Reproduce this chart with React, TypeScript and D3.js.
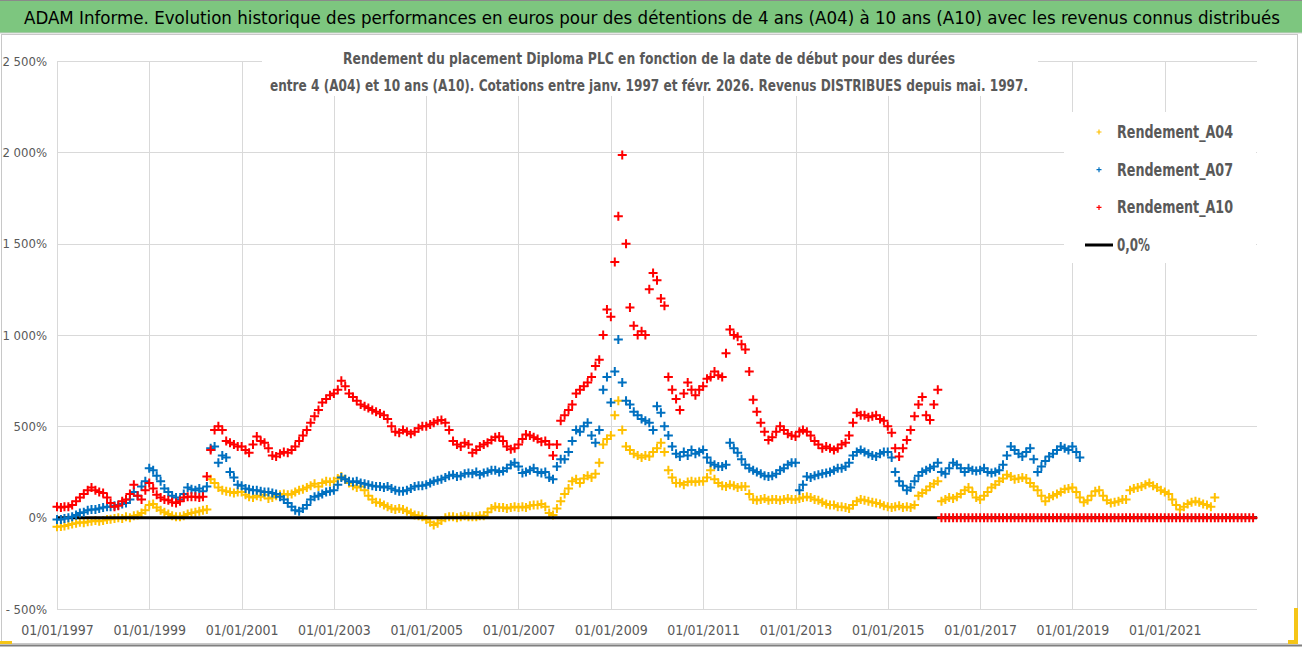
import React, { useEffect, useRef } from 'react';
import * as d3 from 'd3';

// monthly readings, first value = January 1997
const rendementA04 = [
  -50, -48, -45, -40, -35, -30, -25, -28, -22, -20, -15, -20, // 1997
  -15, -10, -8, -5, 0, -5, 5, 0, 10, 15, 25, 40, // 1998
  70, 75, 55, 40, 30, 20, 10, 5, 5, 10, 20, 25, // 1999
  30, 35, 40, 45, 210, 190, 165, 150, 145, 140, 135, 140, // 2000
  140, 125, 115, 110, 120, 115, 125, 105, 110, 120, 125, 130, // 2001
  125, 130, 140, 150, 155, 165, 175, 185, 170, 190, 200, 195, // 2002
  200, 215, 225, 210, 190, 175, 165, 170, 150, 120, 100, 85, // 2003
  80, 70, 60, 50, 45, 50, 45, 35, 25, 15, 10, 5, // 2004
  -10, -25, -40, -30, -15, 0, 5, 5, 0, 5, 10, 5, // 2005
  5, 5, 10, 10, 30, 50, 60, 55, 55, 50, 55, 60, // 2006
  55, 60, 55, 65, 70, 70, 75, 60, 25, 15, 50, 90, // 2007
  130, 160, 200, 210, 190, 215, 230, 220, 240, 300, 400, 430, // 2008
  450, 560, 640, 480, 390, 370, 350, 340, 330, 340, 335, 360, // 2009
  380, 410, 360, 260, 220, 190, 190, 180, 195, 200, 195, 200, // 2010
  200, 220, 260, 210, 190, 175, 170, 180, 175, 165, 170, 170, // 2011
  130, 100, 95, 100, 105, 95, 100, 100, 95, 100, 105, 100, // 2012
  100, 105, 110, 115, 110, 100, 95, 85, 75, 70, 70, 60, // 2013
  60, 55, 50, 70, 90, 100, 95, 90, 85, 80, 75, 65, // 2014
  60, 55, 60, 65, 55, 60, 55, 70, 120, 135, 150, 170, // 2015
  185, 200, 90, 100, 110, 105, 115, 130, 150, 165, 140, 110, // 2016
  100, 120, 140, 165, 180, 200, 215, 235, 225, 210, 215, 220, // 2017
  215, 190, 170, 150, 120, 90, 110, 120, 130, 140, 155, 160, // 2018
  165, 140, 110, 85, 95, 120, 145, 150, 120, 95, 80, 85, // 2019
  90, 100, 100, 150, 160, 165, 170, 180, 190, 175, 165, 150, // 2020
  140, 130, 100, 70, 45, 60, 75, 85, 90, 85, 75, 70, // 2021
  60, 110, // 2022
];

const rendementA07 = [
  -10, -10, -5, 0, 5, 15, 25, 30, 40, 45, 45, 50, // 1997
  55, 60, 60, 65, 70, 75, 80, 100, 140, 120, 170, 200, // 1998
  270, 260, 230, 200, 160, 140, 120, 110, 100, 130, 165, 155, // 1999
  150, 160, 145, 170, 380, 390, 300, 340, 330, 250, 220, 180, // 2000
  175, 160, 155, 150, 150, 145, 140, 140, 135, 130, 115, 100, // 2001
  80, 60, 40, 35, 50, 70, 100, 115, 120, 130, 140, 145, // 2002
  150, 180, 220, 210, 200, 195, 200, 190, 185, 180, 175, 170, // 2003
  170, 165, 170, 160, 150, 145, 145, 150, 160, 170, 175, 175, // 2004
  180, 190, 200, 205, 210, 220, 230, 235, 225, 230, 240, 245, // 2005
  240, 250, 235, 245, 250, 260, 260, 250, 255, 270, 290, 300, // 2006
  280, 245, 250, 260, 270, 250, 245, 250, 220, 210, 280, 320, // 2007
  320, 360, 420, 480, 470, 500, 520, 450, 410, 480, 700, 770, // 2008
  630, 800, 975, 740, 640, 620, 580, 560, 540, 530, 520, 480, // 2009
  610, 575, 500, 450, 390, 350, 335, 360, 340, 370, 350, 360, // 2010
  370, 330, 300, 290, 280, 280, 290, 410, 380, 355, 320, 290, // 2011
  270, 260, 250, 240, 230, 225, 230, 240, 260, 270, 290, 300, // 2012
  300, 150, 180, 225, 220, 230, 235, 240, 245, 250, 260, 270, // 2013
  270, 280, 300, 340, 360, 370, 360, 350, 340, 335, 350, 360, // 2014
  360, 330, 250, 200, 175, 150, 165, 200, 230, 250, 260, 270, // 2015
  280, 300, 250, 240, 270, 300, 290, 270, 250, 270, 260, 255, // 2016
  260, 270, 250, 245, 250, 260, 290, 340, 390, 370, 350, 335, // 2017
  360, 380, 320, 250, 280, 310, 335, 350, 370, 390, 380, 370, // 2018
  390, 360, 330, // 2019
];

const rendementA10 = [
  60, 55, 60, 60, 70, 90, 110, 130, 150, 165, 150, 140, // 1997
  135, 110, 80, 60, 65, 90, 100, 130, 180, 120, 100, 150, // 1998
  190, 160, 125, 110, 100, 95, 85, 80, 90, 110, 115, 115, // 1999
  115, 110, 115, 225, 370, 480, 500, 480, 420, 410, 400, 390, // 2000
  390, 370, 355, 400, 445, 420, 410, 380, 340, 335, 350, 360, // 2001
  355, 370, 390, 420, 450, 480, 520, 555, 590, 630, 650, 670, // 2002
  680, 700, 750, 720, 680, 660, 640, 620, 610, 600, 590, 580, // 2003
  570, 560, 540, 500, 470, 465, 480, 470, 460, 470, 490, 500, // 2004
  500, 510, 520, 530, 535, 520, 480, 420, 400, 390, 410, 400, // 2005
  355, 370, 390, 400, 410, 425, 440, 445, 420, 390, 375, 380, // 2006
  400, 430, 455, 450, 440, 430, 415, 420, 400, 340, 400, 530, // 2007
  560, 590, 620, 680, 700, 720, 740, 770, 830, 865, 1000, 1140, // 2008
  1100, 1400, 1650, 1985, 1500, 1150, 1050, 1000, 1020, 1000, 1250, 1340, // 2009
  1300, 1200, 1160, 770, 700, 650, 590, 680, 740, 700, 670, 700, // 2010
  720, 760, 770, 800, 780, 770, 900, 1030, 1000, 990, 950, 920, // 2011
  800, 645, 580, 520, 470, 425, 440, 470, 500, 480, 460, 450, // 2012
  445, 470, 480, 470, 450, 420, 400, 380, 390, 380, 370, 380, // 2013
  400, 410, 450, 520, 575, 560, 560, 550, 555, 560, 540, 530, // 2014
  500, 465, 380, 335, 380, 425, 480, 555, 620, 660, 560, 535, // 2015
  620, 700, 0, 0, 0, 0, 0, 0, 0, 0, 0, 0, // 2016
  0, 0, 0, 0, 0, 0, 0, 0, 0, 0, 0, 0, // 2017
  0, 0, 0, 0, 0, 0, 0, 0, 0, 0, 0, 0, // 2018
  0, 0, 0, 0, 0, 0, 0, 0, 0, 0, 0, 0, // 2019
  0, 0, 0, 0, 0, 0, 0, 0, 0, 0, 0, 0, // 2020
  0, 0, 0, 0, 0, 0, 0, 0, 0, 0, 0, 0, // 2021
  0, 0, 0, 0, 0, 0, 0, 0, 0, 0, 0, 0, // 2022
];

const zeroLineDates = ['1997-01-01', '2023-01-01'];
const zeroLineValues = [0, 0];

const seriesNames = ['Rendement_A04', 'Rendement_A07', 'Rendement_A10'];
const seriesColors = ['#FFC000', '#0070C0', '#FF0000'];
const tickYears = [1997, 1999, 2001, 2003, 2005, 2007, 2009, 2011, 2013, 2015, 2017, 2019, 2021];
const yTicks = [-500, 0, 500, 1000, 1500, 2000, 2500];

const title =
  'ADAM Informe. Evolution historique des performances en euros pour des détentions de 4 ans (A04) à 10 ans (A10) avec les revenus connus distribués';
const subtitle1 = 'Rendement du placement Diploma PLC en fonction de la date de début pour des durées';
const subtitle2 =
  'entre 4 (A04) et 10 ans (A10). Cotations entre janv. 1997 et févr. 2026. Revenus DISTRIBUES depuis mai. 1997.';

const FONT = "'Liberation Sans Narrow', 'DejaVu Sans Condensed', Roboto, sans-serif";
const GREY = '#595959';

const App: React.FC = () => {
  const ref = useRef<SVGSVGElement | null>(null);

  useEffect(() => {
    if (!ref.current) return;
    const svg = d3.select(ref.current);
    svg.selectAll('*').remove();

    const x = d3
      .scaleTime()
      .domain([new Date(1997, 0, 1), new Date(2023, 0, 1)])
      .range([57, 1257]);
    const y = d3.scaleLinear().domain([-500, 2500]).range([609, 61]);

    // frame + title bar
    svg.append('rect').attr('width', 1302).attr('height', 647).attr('fill', '#fff');
    svg
      .append('rect')
      .attr('x', 1.5)
      .attr('y', 34.5)
      .attr('width', 1296)
      .attr('height', 609)
      .attr('fill', 'none')
      .attr('stroke', '#C8C8C8');
    svg.append('line').attr('x1', 0).attr('x2', 1302).attr('y1', 645.5).attr('y2', 645.5).attr('stroke', '#7F7F7F').attr('stroke-width', 2);
    svg.append('rect').attr('x', 0).attr('y', 0).attr('width', 1302).attr('height', 33).attr('fill', '#7DC67F');
    svg.append('line').attr('x1', 0).attr('x2', 1302).attr('y1', 0.5).attr('y2', 0.5).attr('stroke', '#8A8A8A');
    svg.append('line').attr('x1', 0).attr('x2', 1302).attr('y1', 33).attr('y2', 33).attr('stroke', '#D0D0D0');
    // excel selection handles
    svg.append('rect').attr('x', 0).attr('y', 641).attr('width', 12).attr('height', 3).attr('fill', '#F5C518');
    svg.append('rect').attr('x', 1294).attr('y', 608).attr('width', 4).attr('height', 36).attr('fill', '#F5C518');
    svg.append('rect').attr('x', 1288).attr('y', 640).attr('width', 10).attr('height', 4).attr('fill', '#F5C518');

    svg
      .append('text')
      .attr('x', 652)
      .attr('y', 24)
      .attr('text-anchor', 'middle')
      .attr('font-family', FONT)
      .attr('font-size', 17)
      .attr('fill', '#000')
      .attr('textLength', 1256)
      .attr('lengthAdjust', 'spacingAndGlyphs')
      .text(title);

    // gridlines
    const grid = svg.append('g').attr('stroke', '#D9D9D9').attr('stroke-width', 1);
    grid
      .selectAll('.h')
      .data(yTicks)
      .enter()
      .append('line')
      .attr('x1', 57)
      .attr('x2', 1257)
      .attr('y1', (d) => Math.round(y(d)) + 0.5)
      .attr('y2', (d) => Math.round(y(d)) + 0.5);
    grid
      .selectAll('.v')
      .data(tickYears)
      .enter()
      .append('line')
      .attr('x1', (d) => Math.round(x(new Date(d, 0, 1))) + 0.5)
      .attr('x2', (d) => Math.round(x(new Date(d, 0, 1))) + 0.5)
      .attr('y1', 61)
      .attr('y2', 609);

    // axes
    const loc = d3.formatLocale({ decimal: ',', thousands: ' ', grouping: [3], currency: ['', '€'] });
    const fmt = loc.format(',');
    const yAxis = svg
      .append('g')
      .attr('transform', 'translate(47,0)')
      .call(
        d3
          .axisLeft(y)
          .tickValues(yTicks)
          .tickSize(0)
          .tickPadding(0)
          .tickFormat((d) => {
            const v = +d;
            return v < 0 ? '- ' + fmt(-v) + '%' : fmt(v) + '%';
          })
      );
    yAxis.select('.domain').remove();
    yAxis.selectAll('text').attr('font-family', FONT).attr('font-size', 13).attr('fill', GREY);

    const xAxis = svg
      .append('g')
      .attr('transform', 'translate(0,625)')
      .call(
        d3
          .axisBottom(x)
          .tickValues(tickYears.map((yr) => new Date(yr, 0, 1)))
          .tickSize(0)
          .tickPadding(0)
          .tickFormat((d) => d3.timeFormat('%d/%m/%Y')(d as Date))
      );
    xAxis.select('.domain').remove();
    xAxis.selectAll('text').attr('font-family', FONT).attr('font-size', 14).attr('fill', GREY);

    // series
    const plus = (px: number, py: number, s: number) => `M${px - s},${py}h${2 * s}M${px},${py - s}v${2 * s}`;
    const drawSeries = (values: number[], color: string) => {
      svg
        .append('g')
        .selectAll('path')
        .data(values)
        .enter()
        .append('path')
        .attr('d', (v, i) => plus(x(new Date(1997, i, 1)), y(v), 4.5))
        .attr('stroke', color)
        .attr('stroke-width', 2)
        .attr('fill', 'none');
    };

    drawSeries(rendementA04, seriesColors[0]);
    const zeroLine = d3
      .line<number>()
      .x((_, i) => x(new Date(zeroLineDates[i])))
      .y((v) => y(v));
    svg
      .append('path')
      .attr('d', zeroLine(zeroLineValues))
      .attr('stroke', '#000')
      .attr('stroke-width', 3)
      .attr('fill', 'none');
    drawSeries(rendementA07, seriesColors[1]);
    drawSeries(rendementA10, seriesColors[2]);

    // subtitle
    const sub = svg
      .append('g')
      .attr('font-family', FONT)
      .attr('font-weight', 'bold')
      .attr('font-size', 16)
      .attr('fill', GREY)
      .attr('text-anchor', 'middle');
    sub.append('rect').attr('x', 262).attr('y', 44).attr('width', 776).attr('height', 52).attr('fill', '#fff');
    sub.append('text').attr('x', 649).attr('y', 64).attr('textLength', 612).attr('lengthAdjust', 'spacingAndGlyphs').text(subtitle1);
    sub.append('text').attr('x', 649).attr('y', 91).attr('textLength', 758).attr('lengthAdjust', 'spacingAndGlyphs').text(subtitle2);

    // legend
    const lg = svg.append('g');
    lg.append('rect').attr('x', 1064).attr('y', 112).attr('width', 192).attr('height', 151).attr('fill', '#fff');
    seriesNames.forEach((name, i) => {
      const cy = 132 + i * 37.7;
      lg.append('path').attr('d', plus(1099, cy, 2.5)).attr('stroke', seriesColors[i]).attr('stroke-width', 1.2);
      lg.append('text')
        .attr('x', 1117)
        .attr('y', cy + 6)
        .attr('font-family', FONT)
        .attr('font-size', 17)
        .attr('font-weight', 600)
        .attr('fill', GREY)
        .attr('textLength', 116)
        .attr('lengthAdjust', 'spacingAndGlyphs')
        .text(name);
    });
    lg.append('line').attr('x1', 1085).attr('x2', 1113).attr('y1', 245).attr('y2', 245).attr('stroke', '#000').attr('stroke-width', 3);
    lg.append('text')
      .attr('x', 1117)
      .attr('y', 251)
      .attr('font-family', FONT)
      .attr('font-size', 17)
      .attr('font-weight', 600)
      .attr('fill', GREY)
      .attr('textLength', 33)
      .attr('lengthAdjust', 'spacingAndGlyphs')
      .text('0,0%');
  }, []);

  return <svg ref={ref} width={1302} height={647} style={{ position: 'absolute', left: 0, top: 0 }} />;
};

export default App;
